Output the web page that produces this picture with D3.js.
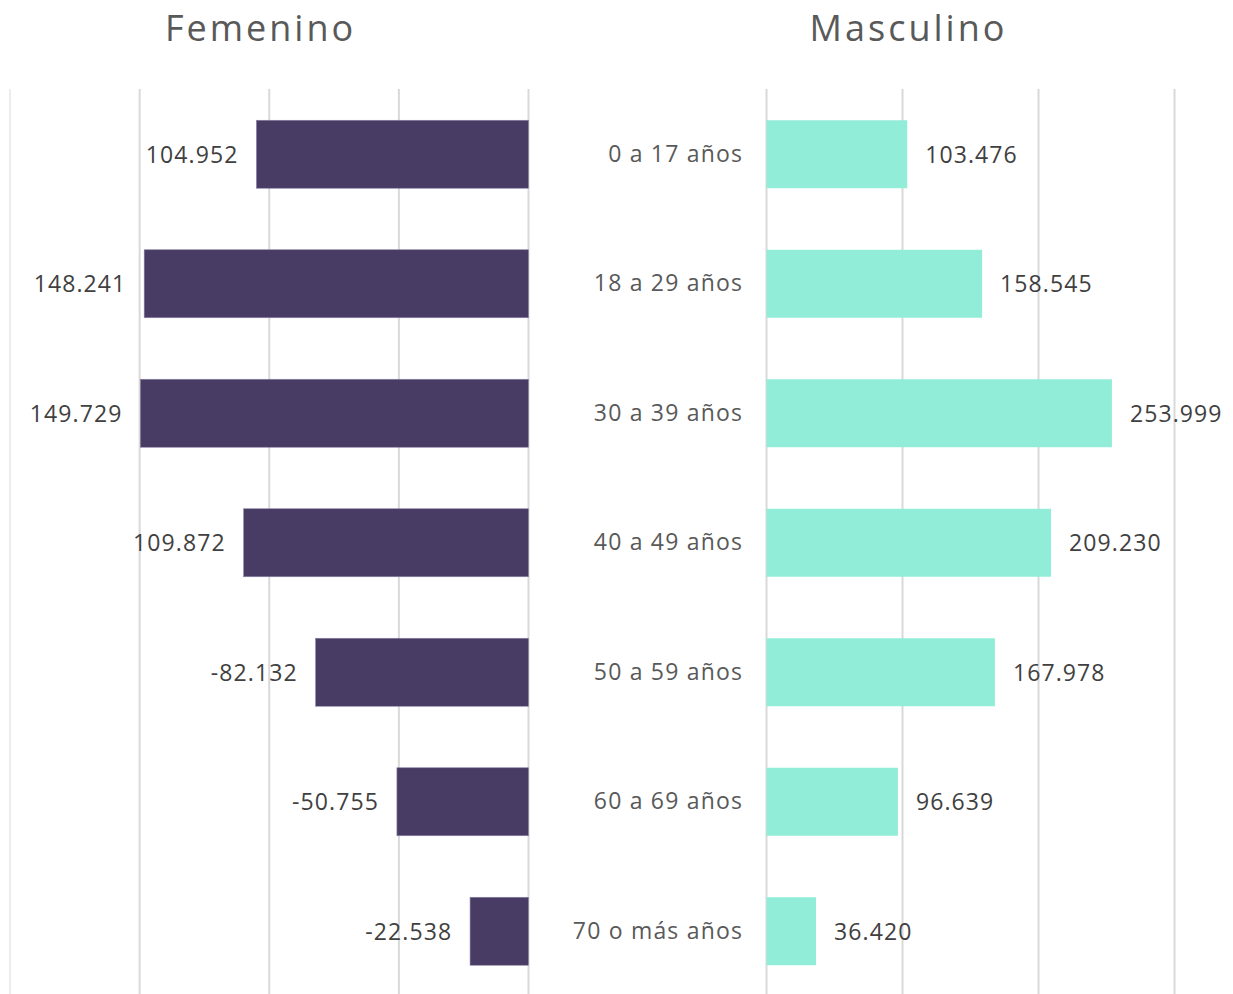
<!DOCTYPE html>
<html>
<head>
<meta charset="utf-8">
<script src="https://cdn.jsdelivr.net/npm/d3@7"></script>
<style>
  html, body { margin: 0; padding: 0; background: #fff; }
  svg { display: block; }
  text { font-family: "Open Sans", "Noto Sans", sans-serif; }
</style>
</head>
<body>
<svg id="chart" width="1233" height="994"></svg>
<script>
const categories = ["0 a 17 años", "18 a 29 años", "30 a 39 años", "40 a 49 años", "50 a 59 años", "60 a 69 años", "70 o más años"];
const femenino = [104.952, 148.241, 149.729, 109.872, 82.132, 50.755, 22.538];
const femeninoLabels = ["104.952", "148.241", "149.729", "109.872", "-82.132", "-50.755", "-22.538"];
const masculino = [103.476, 158.545, 253.999, 209.230, 167.978, 96.639, 36.420];
const masculinoLabels = ["103.476", "158.545", "253.999", "209.230", "167.978", "96.639", "36.420"];
const femTicks = [0, 50, 100, 150, 200];
const mascTicks = [0, 100, 200, 300];

const svg = d3.select("#chart");

const y = d3.scaleBand().domain(categories).range([89.5, 996]).paddingInner(0.475).paddingOuter(0.2375);
const xF = d3.scaleLinear().domain([0, 200]).range([528.5, 10]);
const xM = d3.scaleLinear().domain([0, 300]).range([766.5, 1174.5]);

const LS = 1.1;

// gridlines
svg.append("g").selectAll("line").data(femTicks).join("line")
  .attr("x1", d => xF(d)).attr("x2", d => xF(d))
  .attr("y1", 89).attr("y2", 994)
  .attr("stroke", d => d === 200 ? "#ededed" : "#d9d9d9").attr("stroke-width", 2);
svg.append("g").selectAll("line").data(mascTicks).join("line")
  .attr("x1", d => xM(d)).attr("x2", d => xM(d))
  .attr("y1", 89).attr("y2", 994)
  .attr("stroke", "#d9d9d9").attr("stroke-width", 2);

// bars
svg.append("g").selectAll("rect").data(femenino).join("rect")
  .attr("x", d => xF(d)).attr("width", d => xF(0) - xF(d))
  .attr("y", (d, i) => y(categories[i])).attr("height", y.bandwidth())
  .attr("fill", "#483c64").attr("stroke", "#8c82a6").attr("stroke-width", 0.6);
svg.append("g").selectAll("rect").data(masculino).join("rect")
  .attr("x", xM(0)).attr("width", d => xM(d) - xM(0))
  .attr("y", (d, i) => y(categories[i])).attr("height", y.bandwidth())
  .attr("fill", "#91edd8");

// value labels
svg.append("g").selectAll("text").data(femenino).join("text")
  .attr("x", d => xF(d) - 19 + LS)
  .attr("y", (d, i) => y(categories[i]) + y.bandwidth() / 2)
  .attr("dy", "0.36em").attr("text-anchor", "end")
  .attr("font-size", 23).attr("fill", "#404040").attr("letter-spacing", LS)
  .text((d, i) => femeninoLabels[i]);
svg.append("g").selectAll("text").data(masculino).join("text")
  .attr("x", d => xM(d) + 18)
  .attr("y", (d, i) => y(categories[i]) + y.bandwidth() / 2)
  .attr("dy", "0.36em").attr("text-anchor", "start")
  .attr("font-size", 23).attr("fill", "#404040").attr("letter-spacing", LS)
  .text((d, i) => masculinoLabels[i]);

// category labels
svg.append("g").selectAll("text").data(categories).join("text")
  .attr("x", 742 + 1.2)
  .attr("y", d => y(d) + y.bandwidth() / 2)
  .attr("dy", "0.32em").attr("text-anchor", "end")
  .attr("font-size", 23).attr("fill", "#595959").attr("letter-spacing", 1.2)
  .text(d => d);

// titles
svg.append("text").attr("x", 260.5).attr("y", 41).attr("text-anchor", "middle")
  .attr("font-size", 36).attr("fill", "#595959").attr("letter-spacing", 3).text("Femenino");
svg.append("text").attr("x", 908.5).attr("y", 41).attr("text-anchor", "middle")
  .attr("font-size", 36).attr("fill", "#595959").attr("letter-spacing", 3).text("Masculino");
</script>
</body>
</html>
